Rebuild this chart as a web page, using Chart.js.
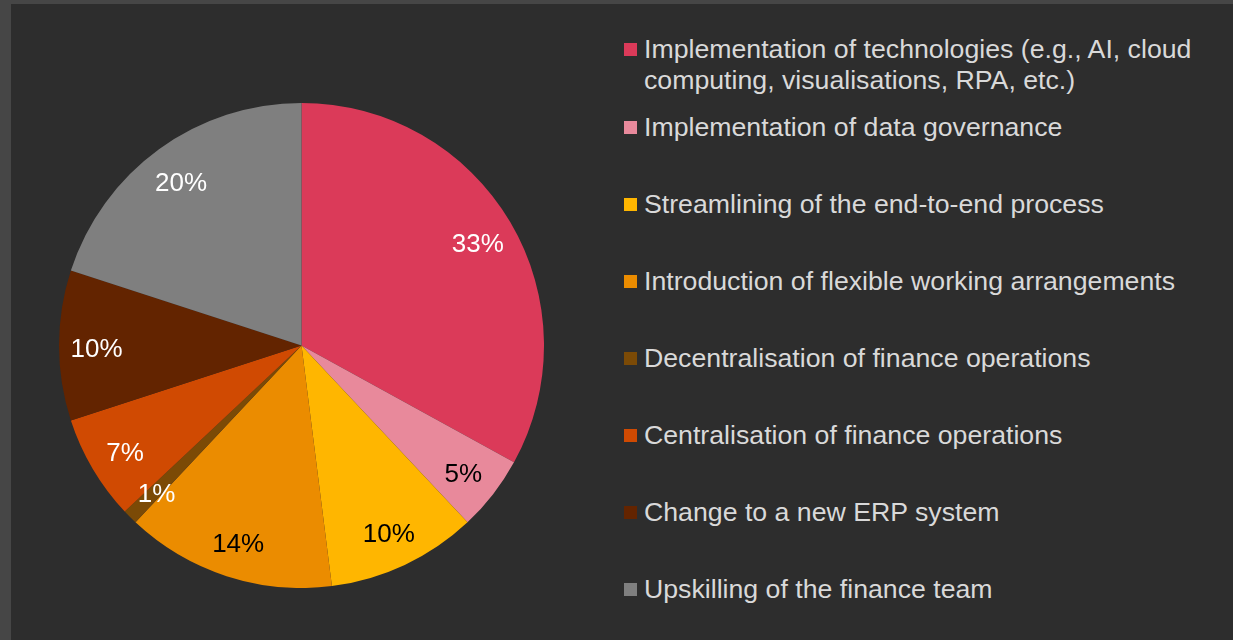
<!DOCTYPE html>
<html>
<head>
<meta charset="utf-8">
<script src="https://cdn.jsdelivr.net/npm/chart.js@4"></script>
<style>
  html, body {
    margin: 0;
    padding: 0;
    width: 1233px;
    height: 640px;
    overflow: hidden;
    background: #464646;
    font-family: "Liberation Sans", Arial, sans-serif;
  }
  #panel {
    position: absolute;
    left: 11px;
    top: 4px;
    width: 1222px;
    height: 636px;
    background: #2d2d2d;
  }
  #pieBox {
    position: absolute;
    left: 59px;
    top: 103px;
    width: 485px;
    height: 485px;
  }
  #legend {
    position: absolute;
    left: 624px;
    top: 34px;
    margin: 0;
    padding: 0;
    list-style: none;
  }
  #legend li {
    position: relative;
    padding-left: 20px;
    width: 570px;
    font-size: 26.7px;
    line-height: 31px;
    color: #d9d9d9;
    margin-bottom: 46px;
  }
  #legend li:first-child {
    margin-bottom: 16px;
  }
  #legend li span.box {
    position: absolute;
    left: 0;
    top: 9px;
    width: 13px;
    height: 13px;
  }
</style>
</head>
<body>
<div id="panel"></div>
<div id="pieBox"><canvas id="pieChart"></canvas></div>
<ul id="legend"></ul>
<script>
// 数据
const categories = [
  "Implementation of technologies (e.g., AI, cloud computing, visualisations, RPA, etc.)",
  "Implementation of data governance",
  "Streamlining of the end-to-end process",
  "Introduction of flexible working arrangements",
  "Decentralisation of finance operations",
  "Centralisation of finance operations",
  "Change to a new ERP system",
  "Upskilling of the finance team"
];
const shares = [33, 5, 10, 14, 1, 7, 10, 20];

// 颜色
const sliceColors = ["#db3a59", "#e8899b", "#ffb600", "#eb8c00", "#7b4a06", "#d04a02", "#632400", "#7f7f7f"];
const labelColors = ["#ffffff", "#000000", "#000000", "#000000", "#ffffff", "#ffffff", "#ffffff", "#ffffff"];

// 扇区内的百分比标签
const sliceLabels = {
  id: "sliceLabels",
  afterDatasetsDraw(chart) {
    const ctx = chart.ctx;
    const meta = chart.getDatasetMeta(0);
    ctx.save();
    ctx.font = '26px "Liberation Sans", Arial, sans-serif';
    ctx.textAlign = "center";
    ctx.textBaseline = "middle";
    meta.data.forEach((arc, i) => {
      const p = arc.getProps(["x", "y", "startAngle", "endAngle", "outerRadius"], true);
      const mid = (p.startAngle + p.endAngle) / 2;
      const r = p.outerRadius * 0.845;
      ctx.fillStyle = labelColors[i];
      ctx.fillText(shares[i] + "%", p.x + Math.cos(mid) * r, p.y + Math.sin(mid) * r + 4);
    });
    ctx.restore();
  }
};

const chart = new Chart(document.getElementById("pieChart"), {
  type: "pie",
  data: {
    labels: categories,
    datasets: [
      {
        data: shares,
        backgroundColor: sliceColors,
        borderWidth: 0
      }
    ]
  },
  options: {
    responsive: true,
    maintainAspectRatio: false,
    animation: false,
    layout: { padding: 0 },
    plugins: {
      legend: { display: false },
      tooltip: { enabled: false }
    }
  },
  plugins: [sliceLabels]
});

// 右侧图例
const legendEl = document.getElementById("legend");
categories.forEach((name, i) => {
  const li = document.createElement("li");
  const box = document.createElement("span");
  box.className = "box";
  box.style.background = sliceColors[i];
  li.appendChild(box);
  li.appendChild(document.createTextNode(name));
  legendEl.appendChild(li);
});
</script>
</body>
</html>
